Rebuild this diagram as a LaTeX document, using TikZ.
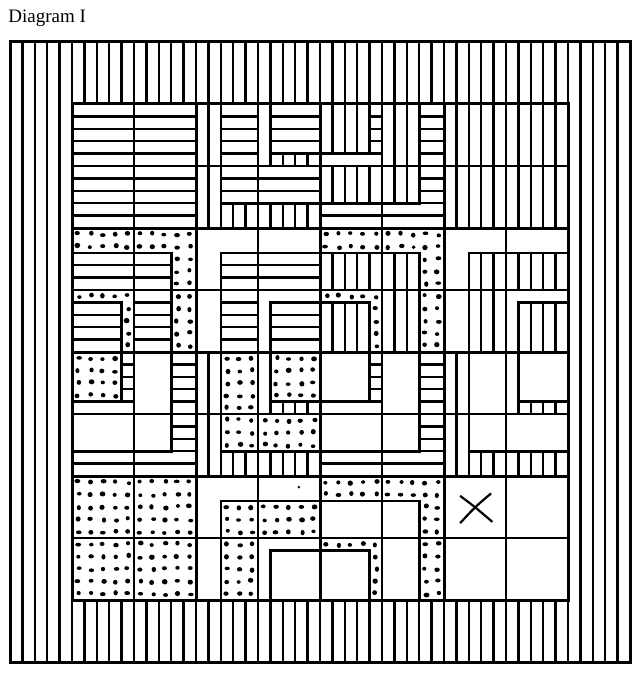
\documentclass[tikz,border=0pt]{standalone}
\usepackage{fontspec}
\setmainfont{Liberation Serif}
\usetikzlibrary{positioning}

% fills of one rectangle (x1,y1)-(x2,y2), in stripe units
\newcommand{\patth}[4]{\foreach \k in {#2,...,#4} {\draw[stripe] (#1,\k) -- (#3,\k);}}
\newcommand{\pattv}[4]{\foreach \k in {#1,...,#3} {\draw[stripe] (\k,#2) -- (\k,#4);}}
\newcommand{\pattd}[4]{%
  \pgfmathtruncatemacro{\xe}{#3-1}\pgfmathtruncatemacro{\ye}{#4-1}%
  \foreach \i in {#1,...,\xe} {\foreach \j in {#2,...,\ye} {%
    \fill[spot] (\i+0.5+0.1*rand,\j+0.5+0.1*rand) circle [x radius={0.2+0.04*rand}, y radius={0.18+0.04*rand}];}}}
\newcommand{\pattn}[4]{}
\newcommand{\fillreg}[5]{\csname patt#1\endcsname{#2}{#3}{#4}{#5}}

% one block of nested corners: bands 2, 3, 1 and a 4x4 core
\newcommand{\blk}[5]{%
  \begin{scope}[#1]
    \fillreg{#2}{0}{0}{10}{2}\fillreg{#2}{0}{2}{2}{10}
    \fillreg{#3}{2}{2}{10}{5}\fillreg{#3}{2}{5}{5}{10}
    \fillreg{#4}{5}{5}{10}{6}\fillreg{#4}{5}{6}{6}{10}
    \fillreg{#5}{6}{6}{10}{10}
    \draw[bandline] (2,10) |- (10,2);
    \draw[bandline] (5,10) |- (10,5);
    \draw[bandline] (6,10) |- (10,6);
  \end{scope}}

\begin{document}
\begin{tikzpicture}[x=12.4pt, y=-12.4pt,
    stripe/.style={line width=2.3pt, line cap=rect},
    bandline/.style={line width=2.6pt, line cap=rect},
    cellline/.style={line width=1.8pt},
    blockline/.style={line width=3pt, line cap=rect},
    spot/.style={fill=black},
    corner tl/.style 2 args={shift={(#1,#2)}},
    corner tr/.style 2 args={shift={(#1+10,#2)}, xscale=-1},
    corner bl/.style 2 args={shift={(#1,#2+10)}, yscale=-1},
    corner br/.style 2 args={shift={(#1+10,#2+10)}, xscale=-1, yscale=-1}]
    \useasboundingbox (-5.8065,-8.387) rectangle (45.887,46.29);
    \pgfmathsetseed{11}

    % Title
    \node[anchor=base west, inner sep=0pt, font=\fontsize{19pt}{23pt}\selectfont] (title) at (-5.14,-6.56) {Diagram I};

    % Border
    \foreach \k in {-5,...,45} {
      \draw[stripe] (\k,-5) -- (\k,0);
      \draw[stripe] (\k,40) -- (\k,45);
    }
    \foreach \k in {-5,...,0} {\draw[stripe] (\k,-5) -- (\k,45);}
    \foreach \k in {40,...,45} {\draw[stripe] (\k,-5) -- (\k,45);}
    \draw[blockline] (-5,-5) rectangle (45,45);

    % Blocks
    \patth{0}{0}{10}{10}
    \blk{corner bl={10}{0}}{v}{h}{v}{h}
    \blk{corner br={20}{0}}{h}{v}{h}{v}
    \pattv{30}{0}{40}{10}
    \blk{corner tr={0}{10}}{d}{h}{d}{h}
    \blk{corner tl={10}{10}}{n}{h}{n}{h}
    \blk{corner tr={20}{10}}{d}{v}{d}{v}
    \blk{corner tl={30}{10}}{n}{v}{n}{v}
    \blk{corner br={0}{20}}{h}{n}{h}{d}
    \blk{corner bl={10}{20}}{v}{d}{v}{d}
    \blk{corner br={20}{20}}{h}{n}{h}{n}
    \blk{corner bl={30}{20}}{v}{n}{v}{n}
    \pattd{0}{30}{10}{40}
    \blk{corner tl={10}{30}}{n}{d}{n}{n}
    \blk{corner tr={20}{30}}{d}{n}{d}{n}
    \fill[spot] (18.3,30.9) circle [radius=0.11];

    % Grid
    \foreach \k in {0,5,...,40} {
      \draw[cellline] (\k,0) -- (\k,40);
      \draw[cellline] (0,\k) -- (40,\k);
    }
    \foreach \k in {0,10,...,40} {
      \draw[blockline] (\k,0) -- (\k,40);
      \draw[blockline] (0,\k) -- (40,\k);
    }

    % Cross
    \draw[line width=2.2pt] (31.3,31.6) .. controls (32.5,32.5) .. (33.9,33.7);
    \draw[line width=2.2pt] (31.3,33.8) .. controls (32.5,32.5) .. (33.8,31.4);
\end{tikzpicture}
\end{document}
